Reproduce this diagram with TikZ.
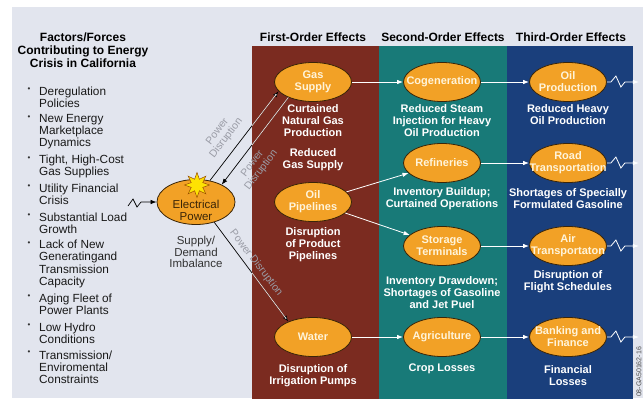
\documentclass[tikz,border=0pt]{standalone}
\usepackage{fontspec}
\setmainfont{Liberation Sans}
\usetikzlibrary{shapes.geometric,arrows.meta}
\definecolor{bgc}{HTML}{E2E5EE}
\definecolor{redp}{HTML}{7B2B20}
\definecolor{tealp}{HTML}{187A78}
\definecolor{bluep}{HTML}{1A3F7C}
\definecolor{orng}{HTML}{F2A126}
\definecolor{cream}{HTML}{FFF4DA}
\definecolor{outl}{HTML}{3A2508}
\definecolor{pdtext}{HTML}{9A9CA6}
\definecolor{pdwhite}{HTML}{F4E4E0}
\begin{document}
\begin{tikzpicture}[x=1pt,y=-1pt,
 eff/.style={ellipse, draw=outl, line width=0.8pt, fill=orng, minimum width=77pt, minimum height=39pt, inner sep=0pt},
 efflab/.style={text=cream, font=\bfseries\fontsize{11}{12}\selectfont, align=center, inner sep=0pt},
 desc/.style={text=white, font=\bfseries\fontsize{11}{12}\selectfont, align=center, inner sep=0pt},
 head/.style={font=\bfseries\fontsize{12}{13}\selectfont, inner sep=0pt},
 blt/.style={font=\fontsize{11.8}{12.3}\selectfont, anchor=west, align=left, inner sep=0pt, text=black!90},
 bul/.style={font=\fontsize{8}{8}\selectfont, inner sep=0pt, text=black!80},
 conn/.style={draw=white, line width=0.8pt, -{Latex[length=6pt,width=4.5pt]}},
 pdline/.style={draw=black, line width=0.7pt},
 pdlab/.style={text=pdtext, font=\fontsize{10.5}{11}\selectfont, align=center, inner sep=0pt},
 ]
\useasboundingbox (0,0) rectangle (643,407);
\fill[white] (0,0) rectangle (643,407);
\fill[bgc] (12,7) rectangle (643,398);
\fill[redp] (252,46) rectangle (379,399);
\fill[tealp] (379,46) rectangle (507,399);
\fill[bluep] (507,46) rectangle (633,399);

% headers
\node[head] (h1) at (313,37) {First-Order Effects};
\node[head] (h2) at (443,37) {Second-Order Effects};
\node[head] (h3) at (571,37) {Third-Order Effects};
\node[head, align=center] (title) at (83,50) {Factors/Forces\\Contributing to Energy\\Crisis in California};

% bullet list
\foreach \yy/\txt [count=\i] in {96/{Deregulation\\Policies}, 130.5/{New Energy\\Marketplace\\Dynamics},
  165/{Tight, High-Cost\\Gas Supplies}, 193/{Utility Financial\\Crisis}, 222/{Substantial Load\\Growth},
  262.5/{Lack of New\\Generatingand\\Transmission\\Capacity}, 303/{Aging Fleet of\\Power Plants},
  332/{Low Hydro\\Conditions}, 366/{Transmission/\\Enviromental\\Constraints}}
  \node[blt] (bl\i) at (39,\yy+1.3) {\txt};
\foreach \yy [count=\i] in {90,118,159,187,216,244,297,326,353}
  \node[bul] (bu\i) at (29,\yy) {\textbullet};

% ellipses
\node[eff] (gas) at (313,82) {};
\node[eff] (oil) at (313,202) {};
\node[eff] (water) at (313,337) {};
\node[eff] (cog) at (442,82) {};
\node[eff] (ref) at (442,163) {};
\node[eff] (stor) at (442,246) {};
\node[eff] (agri) at (442,337) {};
\node[eff] (oilp) at (568,82) {};
\node[eff] (road) at (568,163) {};
\node[eff] (air) at (568,246) {};
\node[eff] (bank) at (568,337) {};
\node[eff, minimum width=78pt, minimum height=45pt] (elec) at (196,202) {};

\node[efflab] (gasT) at (gas) {Gas\\Supply};
\node[efflab] (oilT) at (oil) {Oil\\Pipelines};
\node[efflab] (waterT) at (water) {Water};
\node[efflab] (cogT) at (cog) {Cogeneration};
\node[efflab] (refT) at (ref) {Refineries};
\node[efflab] (storT) at (stor) {Storage\\Terminals};
\node[efflab] (agriT) at (agri) {Agriculture};
\node[efflab] (oilpT) at (oilp) {Oil\\Production};
\node[efflab] (roadT) at (road) {Road\\Transportation};
\node[efflab] (airT) at (air) {Air\\Transportaton};
\node[efflab] (bankT) at (bank) {Banking and\\Finance};
\node[font=\fontsize{11.5}{12}\selectfont, text=outl, align=center, inner sep=0pt] (elecT) at (196,210) {Electrical\\Power};
\node[star, star points=8, star point ratio=2, fill=yellow!85!orange, draw=orange!60!black, line width=0.5pt, minimum size=25pt, inner sep=0pt] (spark) at (197,185) {};

\node[font=\fontsize{11.5}{11.8}\selectfont, text=black!80, align=center, inner sep=0pt] (sd) at (196,252) {Supply/\\Demand\\Imbalance};

% descriptions
\node[desc] (d1) at (313,121) {Curtained\\Natural Gas\\Production};
\node[desc] (d1b) at (313,160) {Reduced\\Gas Supply};
\node[desc] (d2) at (313,245) {Disruption\\of Product\\Pipelines};
\node[desc] (d3) at (313,376) {Disruption of\\Irrigation Pumps};
\node[desc] (d4) at (442,121) {Reduced Steam\\Injection for Heavy\\Oil Production};
\node[desc] (d5) at (442,199) {Inventory Buildup;\\Curtained Operations};
\node[desc] (d6) at (442,293) {Inventory Drawdown;\\Shortages of Gasoline\\and Jet Puel};
\node[desc] (d7) at (442,369) {Crop Losses};
\node[desc] (d8) at (568,115) {Reduced Heavy\\Oil Production};
\node[desc] (d9) at (568,199) {Shortages of Specially\\Formulated Gasoline};
\node[desc] (d10) at (568,282) {Disruption of\\Flight Schedules};
\node[desc] (d11) at (568,376) {Financial\\Losses};

% connectors between effects
\draw[conn] (gas) -- (cog);
\draw[conn] (oil) -- (ref);
\draw[conn] (oil) -- (stor);
\draw[conn] (water) -- (agri);
\draw[conn] (cog) -- (oilp);
\draw[conn] (ref) -- (road);
\draw[conn] (stor) -- (air);
\draw[conn] (agri) -- (bank);
\foreach \n in {oilp,road,air,bank}
  \draw[conn] (\n.east) -- ++(4,0) -- ++(5,-6) -- ++(5,11) -- ++(4,-5) -- ++(14,0);

% input zigzag
\coordinate (zz0) at (128,206);
\draw[pdline, -{Latex[length=6pt,width=4.5pt]}] (zz0) -- (133,199) -- (137,207) -- (141,202) -- (elec.west);

% power disruption arrows
\draw[pdline, -{Latex[length=6pt,width=4.5pt,fill=white]}] (elec.57) -- (gas.195);
\draw[pdline, -{Latex[length=6pt,width=4.5pt]}] (gas.212) -- (elec.34);
\draw[pdline, -{Latex[length=6pt,width=4.5pt,fill=white]}] (elec.-48) -- (water.148);
\begin{scope}
  \clip (252,46) rectangle (379,399);
  \draw[pdwhite, line width=0.7pt, shorten >=5pt] (elec.57) -- (gas.195);
  \draw[pdwhite, line width=0.7pt] (gas.212) -- (elec.34);
  \draw[pdwhite, line width=0.7pt, shorten >=5pt] (elec.-48) -- (water.148);
\end{scope}
\node[pdlab, rotate=52.7] (pd1) at (222,135) {Power\\Disruption};
\node[pdlab, rotate=52.7] (pd2) at (257,167) {Power\\Disruption};
\node[pdlab, rotate=-52.5] (pd3) at (256,263) {Power Disruption};

\node[rotate=90, font=\fontsize{7}{7}\selectfont, text=black!70, inner sep=0pt] (code) at (639,372) {08-GA50162-16};
\end{tikzpicture}
\end{document}
